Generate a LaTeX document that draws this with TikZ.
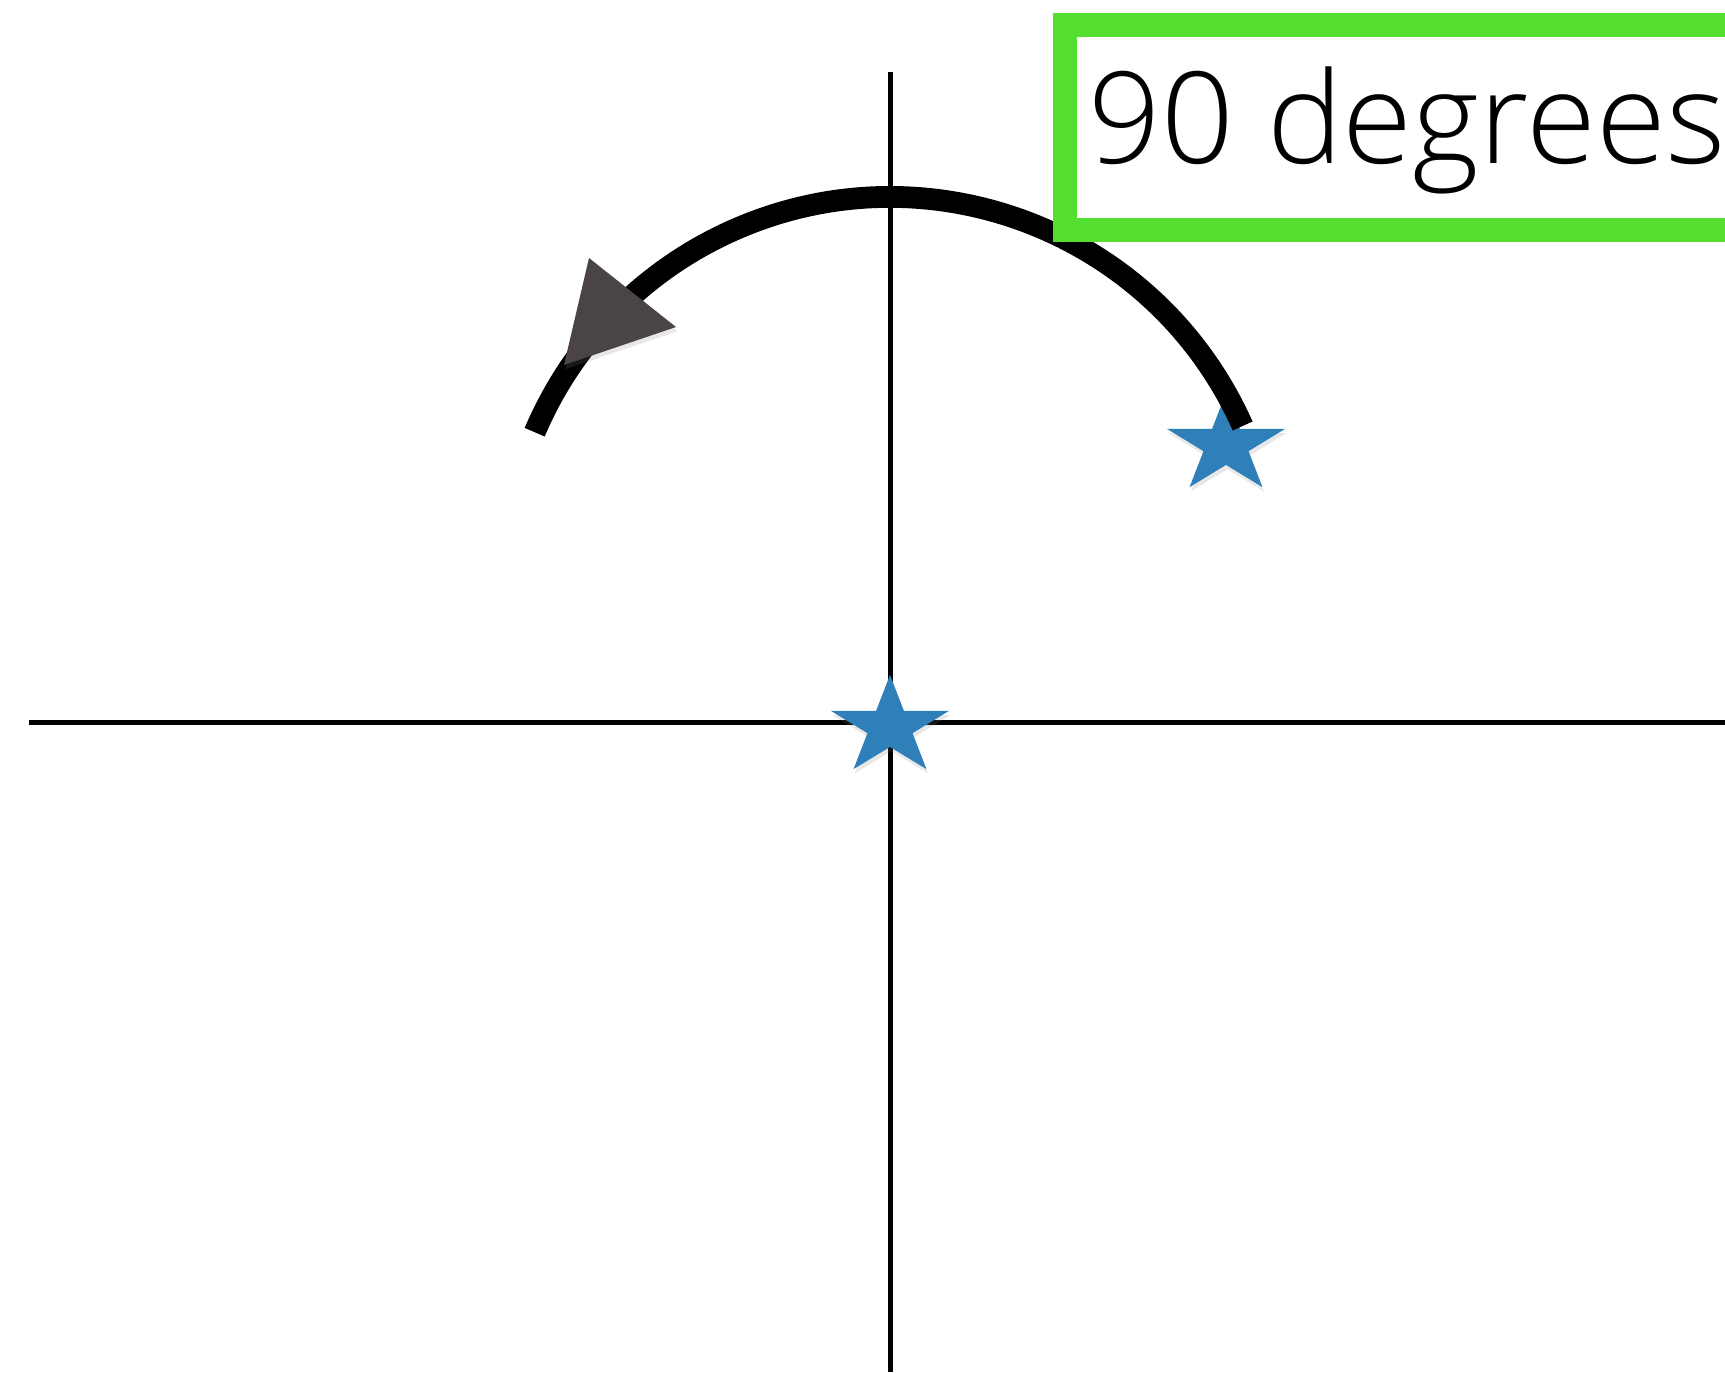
\documentclass[tikz,border=0pt]{standalone}
\usepackage{fontspec}
\setmainfont{Open Sans}[UprightFont=* Light]
\usetikzlibrary{shapes.geometric,shadows}
\definecolor{StarBlue}{HTML}{2F80B8}
\definecolor{TipGrey}{HTML}{4A4347}
\definecolor{BoxGreen}{HTML}{54DE2F}
\tikzset{
  axisline/.style={black,line width=1.42pt},
  turnarc/.style={black,line width=6.2pt},
  softshadow/.style={drop shadow={shadow xshift=0.4pt,shadow yshift=-1.2pt,opacity=0.18}},
  bluestar/.style={star,star points=5,star point ratio=2.618,inner sep=0pt,
                   minimum size=1.24cm,yscale=0.84,fill=StarBlue,softshadow},
}

\begin{document}
\begin{tikzpicture}[x=0.01cm,y=0.01cm]
      \useasboundingbox (-890,-650) rectangle (835,722);
      % axes
      \draw[axisline] (-861,0) -- (835,0);
      \draw[axisline] (0,650) -- (0,-650);

      \node[bluestar] (start) at (0,-5) {};
      \node[bluestar] (turned) at (336,277) {};

      % rotation arc with its head
      \draw[turnarc] (0,139) ++(24:386) arc (24:157:386);
      \fill[TipGrey,softshadow] (-301,464) -- (-214,395) -- (-326,357) -- cycle;

      \draw[BoxGreen,line width=0.24cm] (900,697) -- (175,697) -- (175,492) -- (900,492);
      \node[anchor=base west,inner sep=0pt,font=\fontsize{36.2}{40}\selectfont] (angle) at (198,559) {90 degrees};
    \end{tikzpicture}
\end{document}
